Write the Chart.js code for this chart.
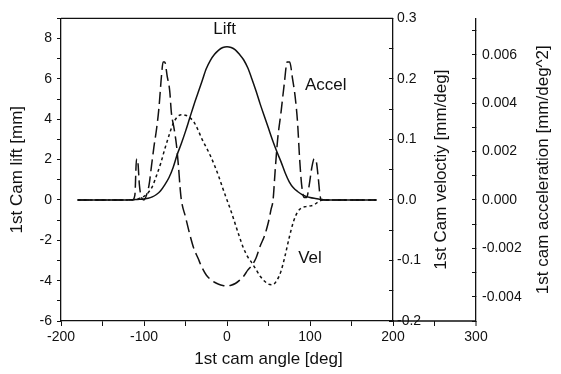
<!DOCTYPE html>
<html>
<head>
<meta charset="utf-8">
<script src="https://cdn.jsdelivr.net/npm/chart.js@4.4.0/dist/chart.umd.min.js"></script>
<style>
  body { margin: 0; background: #fff; }
  canvas { display: block; }
</style>
</head>
<body>
<canvas id="cam" width="561" height="374"></canvas>
<script>
// lift and velocity share the same angle grid
const angles = [-180, -120, -115, -110, -105, -100, -95, -90, -85, -80, -75, -70, -65, -60, -55, -50, -45, -40, -35, -30, -25, -20, -15, -10, -5,
  0, 5, 10, 15, 20, 25, 30, 35, 40, 45, 50, 55, 60, 65, 70, 75, 80, 85, 90, 95, 100, 105, 110, 115, 120, 180];
const lift = [0, 0, 0.01, 0.02, 0.03, 0.05, 0.08, 0.15, 0.27, 0.46, 0.75, 1.1, 1.6, 2.25, 2.8, 3.4, 4.05, 4.7, 5.3, 5.9, 6.5, 6.92, 7.22, 7.43, 7.56,
  7.6, 7.56, 7.44, 7.22, 6.95, 6.55, 6.0, 5.4, 4.75, 4.15, 3.55, 2.95, 2.4, 1.9, 1.35, 0.9, 0.6, 0.42, 0.28, 0.18, 0.12, 0.08, 0.05, 0.02, 0, 0];
const velocity = [0, 0, 0, 0.001, 0.003, 0.006, 0.012, 0.022, 0.04, 0.06, 0.084, 0.106, 0.126, 0.137, 0.141, 0.14, 0.136, 0.129, 0.116, 0.1, 0.087, 0.073, 0.057, 0.039, 0.019,
  0, -0.019, -0.04, -0.061, -0.08, -0.094, -0.104, -0.115, -0.126, -0.134, -0.139, -0.14, -0.133, -0.118, -0.092, -0.062, -0.036, -0.02, -0.013, -0.011, -0.01, -0.008, -0.003, 0, 0, 0];

// acceleration has sharp spikes, so it gets its own finer grid
const accAngles = [-180, -114, -111, -109, -107.5, -105.5, -103, -100, -97, -94, -91, -88, -85, -82, -79, -77, -75, -72, -69, -67, -64, -61, -58.5, -56.5, -55,
  -50, -45, -40, -35, -30, -25, -20, -15, -10, -5, 0, 5, 10, 15, 20, 25, 30, 35, 40, 45, 50, 53, 55.5,
  58, 61, 65, 69, 72.5, 75.5, 79, 82, 85, 87.5, 90, 93, 96, 99, 102, 105, 107.5, 110, 112, 114, 180];
const acceleration = [0, 0, 0.0002, 0.0017, 0.0016, 0.0006, 0.0001, 0, 0.0002, 0.0006, 0.0014, 0.0022, 0.0029, 0.0038, 0.0051, 0.0057, 0.0057, 0.0051, 0.0045, 0.0036, 0.003, 0.0023, 0.0014, 0.0005, 0,
  -0.0007, -0.0014, -0.002, -0.0024, -0.0028, -0.0031, -0.00328, -0.0034, -0.00348, -0.00353, -0.00355, -0.00352, -0.00345, -0.00332, -0.00315, -0.0029, -0.0027, -0.0024, -0.0019, -0.0015, -0.0009, -0.0004, 0,
  0.0012, 0.0025, 0.0036, 0.0048, 0.0057, 0.0057, 0.005, 0.0043, 0.0032, 0.0017, 0.0006, 0.0001, 0.0001, 0.0006, 0.0013, 0.0017, 0.0016, 0.0009, 0.0002, 0, 0];

const ink = "#111";
const family = "'Liberation Sans', Arial, sans-serif";
const tickFont = { family, size: 14 };
const titleFont = { family, size: 17 };

Chart.defaults.font.family = family;
Chart.defaults.color = ink;

function pts(xs, ys) {
  return xs.map((x, i) => ({ x, y: ys[i] }));
}

// titles on the right read bottom-to-top, plus the bits of frame Chart.js does not draw
const extras = {
  id: "extras",
  afterDraw(chart) {
    const { ctx, chartArea: a, scales } = chart;
    const x = scales.x;
    const y = scales.y;
    ctx.save();
    ctx.strokeStyle = ink;
    ctx.lineWidth = 1.3;
    ctx.beginPath();
    ctx.moveTo(a.left, a.top);
    ctx.lineTo(a.right, a.top);
    // bottom axis carries on under the velocity axis up to 300
    const xEnd = x.getPixelForValue(300);
    ctx.moveTo(a.right, a.bottom);
    ctx.lineTo(xEnd, a.bottom);
    ctx.stroke();
    ctx.lineWidth = 1;
    ctx.beginPath();
    [250, 300].forEach((v) => {
      const p = x.getPixelForValue(v);
      ctx.moveTo(p, a.bottom);
      ctx.lineTo(p, a.bottom + 5);
    });
    ctx.stroke();

    ctx.fillStyle = ink;
    ctx.font = `${tickFont.size}px ${family}`;
    ctx.textAlign = "center";
    ctx.textBaseline = "middle";
    ctx.fillText("300", xEnd, a.bottom + 5 + 3 + tickFont.size * 0.6);

    ctx.font = `${titleFont.size}px ${family}`;
    const midX = (x.getPixelForValue(-200) + xEnd) / 2;
    ctx.fillText("1st cam angle [deg]", midX, a.bottom + 38);

    const midY = (a.top + a.bottom) / 2;
    [[scales.yv.left + 48, "1st Cam veloctiy [mm/deg]"], [scales.ya.left + 67, "1st cam acceleration [mm/deg^2]"]].forEach(([tx, text]) => {
      ctx.save();
      ctx.translate(tx, midY);
      ctx.rotate(-Math.PI / 2);
      ctx.fillText(text, 0, 0);
      ctx.restore();
    });

    // curve names
    ctx.fillText("Lift", x.getPixelForValue(-3), y.getPixelForValue(8.45));
    ctx.fillText("Accel", x.getPixelForValue(119), y.getPixelForValue(5.66));
    ctx.fillText("Vel", x.getPixelForValue(100), y.getPixelForValue(-2.88));
    ctx.restore();
  },
};

const axisGrid = { drawOnChartArea: false, drawTicks: true, tickLength: 4, color: ink, lineWidth: 1 };
const axisBorder = { display: true, color: ink, width: 1.3 };

new Chart(document.getElementById("cam"), {
  type: "line",
  data: {
    datasets: [
      {
        label: "Lift",
        data: pts(angles, lift),
        yAxisID: "y",
        borderColor: ink,
        borderWidth: 1.5,
        pointRadius: 0,
        cubicInterpolationMode: "monotone",
      },
      {
        label: "Vel",
        data: pts(angles, velocity),
        yAxisID: "yv",
        borderColor: ink,
        borderWidth: 1.5,
        borderDash: [3, 3],
        pointRadius: 0,
        cubicInterpolationMode: "monotone",
      },
      {
        label: "Accel",
        data: pts(accAngles, acceleration),
        yAxisID: "ya",
        borderColor: ink,
        borderWidth: 1.5,
        borderDash: [12, 5],
        pointRadius: 0,
        cubicInterpolationMode: "monotone",
      },
    ],
  },
  options: {
    responsive: false,
    animation: false,
    devicePixelRatio: 1,
    layout: { padding: { top: 14, left: 0, right: 0, bottom: 0 } },
    plugins: { legend: { display: false }, tooltip: { enabled: false } },
    scales: {
      x: {
        type: "linear",
        min: -200,
        max: 200,
        grid: { ...axisGrid, tickLength: 5 },
        border: axisBorder,
        ticks: {
          stepSize: 50,
          autoSkip: false,
          maxRotation: 0,
          padding: 3,
          font: tickFont,
          callback: (v) => (v % 100 === 0 ? String(v) : ""),
        },
        afterFit: (s) => { s.height = 53; },
      },
      y: {
        position: "left",
        min: -6,
        max: 9,
        grid: axisGrid,
        border: axisBorder,
        ticks: {
          stepSize: 1,
          autoSkip: false,
          padding: 5,
          font: tickFont,
          callback: (v) => (Math.round(v) % 2 === 0 ? String(Math.round(v)) : ""),
        },
        title: { display: true, text: "1st Cam lift [mm]", font: titleFont, padding: { top: 7, bottom: 0 } },
        afterFit: (s) => { s.width = 61; },
      },
      yv: {
        position: "right",
        weight: 0,
        min: -0.2,
        max: 0.3,
        grid: { ...axisGrid, tickLength: -4 },
        border: axisBorder,
        ticks: {
          stepSize: 0.05,
          autoSkip: false,
          padding: 8,
          font: tickFont,
          callback: (v) => {
            const k = Math.round(v * 20);
            return k % 2 === 0 ? (k / 20).toFixed(1) : "";
          },
        },
        afterFit: (s) => { s.width = 83; },
      },
      ya: {
        position: "right",
        weight: 1,
        min: -0.005,
        max: 0.0075,
        grid: { ...axisGrid, tickLength: -4 },
        border: axisBorder,
        ticks: {
          stepSize: 0.001,
          includeBounds: false,
          autoSkip: false,
          padding: 10,
          font: tickFont,
          callback: (v) => {
            const k = Math.round(v * 1000);
            return k % 2 === 0 ? (k / 1000).toFixed(3) : "";
          },
        },
        afterFit: (s) => { s.width = 85; },
      },
    },
  },
  plugins: [extras],
});
</script>
</body>
</html>
